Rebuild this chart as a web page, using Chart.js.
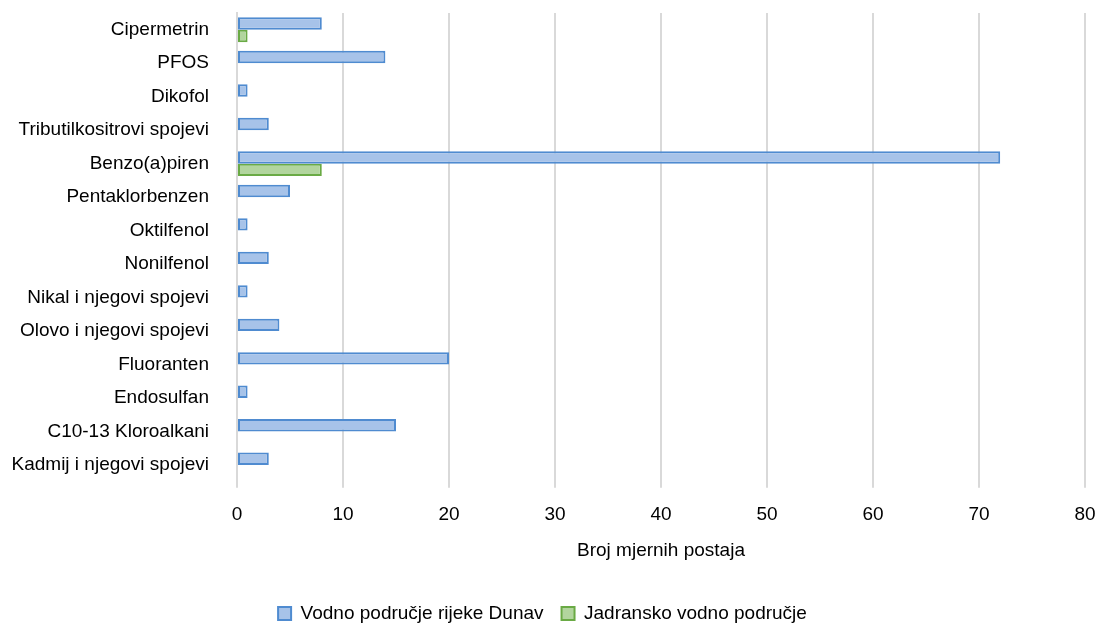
<!DOCTYPE html>
<html>
<head>
  <title>Broj mjernih postaja</title>
  <script src="https://cdn.jsdelivr.net/npm/chart.js"></script>
  <style>
    html, body { margin: 0; padding: 0; background: #fff; }
    #wrap { width: 1099px; height: 630px; }
  </style>
</head>
<body>
<div id="wrap"><canvas id="barChart" width="1099" height="630"></canvas></div>

<script>
  // categories, top to bottom
  const substances = [
    'Cipermetrin', 'PFOS', 'Dikofol', 'Tributilkositrovi spojevi', 'Benzo(a)piren',
    'Pentaklorbenzen', 'Oktilfenol', 'Nonilfenol', 'Nikal i njegovi spojevi',
    'Olovo i njegovi spojevi', 'Fluoranten', 'Endosulfan', 'C10-13 Kloroalkani',
    'Kadmij i njegovi spojevi'
  ];
  const dunav = [8, 14, 1, 3, 72, 5, 1, 3, 1, 4, 20, 1, 15, 3];
  const jadran = [1, 0, 0, 0, 8, 0, 0, 0, 0, 0, 0, 0, 0, 0];
  const xTicks = [0, 10, 20, 30, 40, 50, 60, 70, 80];

  const fontFamily = '"Liberation Sans Narrow", "Arial Narrow", "Liberation Sans", Arial, sans-serif';
  Chart.defaults.font.family = fontFamily;
  Chart.defaults.font.size = 19;
  Chart.defaults.color = '#000';

  const ctx = document.getElementById('barChart').getContext('2d');
  new Chart(ctx, {
    type: 'bar',
    data: {
      labels: substances,
      datasets: [{
        label: 'Vodno područje rijeke Dunav',
        data: dunav,
        backgroundColor: '#a7c3e9',
        borderColor: '#4f8bd0',
        borderWidth: 2,
        borderSkipped: false
      }, {
        label: 'Jadransko vodno područje',
        data: jadran,
        backgroundColor: '#b2d59e',
        borderColor: '#6aaa45',
        borderWidth: 2,
        borderSkipped: false
      }]
    },
    options: {
      indexAxis: 'y',
      responsive: false,
      animation: false,
      layout: { padding: { top: 13, right: 14, left: 0, bottom: -3 } },
      datasets: { bar: { categoryPercentage: 0.74, barPercentage: 1.0 } },
      plugins: {
        tooltip: { enabled: false },
        legend: {
          position: 'bottom',
          labels: {
            boxWidth: 13,
            boxHeight: 13,
            padding: 18,
            font: { size: 19 }
          }
        }
      },
      scales: {
        x: {
          min: 0,
          max: 80,
          afterBuildTicks: scale => { scale.ticks = xTicks.map(v => ({ value: v })); },
          grid: { color: '#d9d9d9', lineWidth: 2, tickLength: 6, drawTicks: true },
          border: { display: false },
          ticks: { padding: 20, font: { size: 19, lineHeight: 0.7 } },
          title: {
            display: true,
            text: 'Broj mjernih postaja',
            font: { size: 19, lineHeight: 1.0 },
            padding: { top: 0, bottom: 26 }
          },
          afterFit: scale => { scale.paddingLeft = 0; scale.paddingRight = 0; }
        },
        y: {
          grid: { display: false },
          border: { display: true, color: '#d9d9d9', width: 2 },
          ticks: { padding: 20, font: { size: 19 } },
          afterFit: scale => {
            scale.width = 237;
            scale.paddingTop = 0;
            scale.paddingBottom = 0;
          }
        }
      }
    }
  });
</script>
</body>
</html>
